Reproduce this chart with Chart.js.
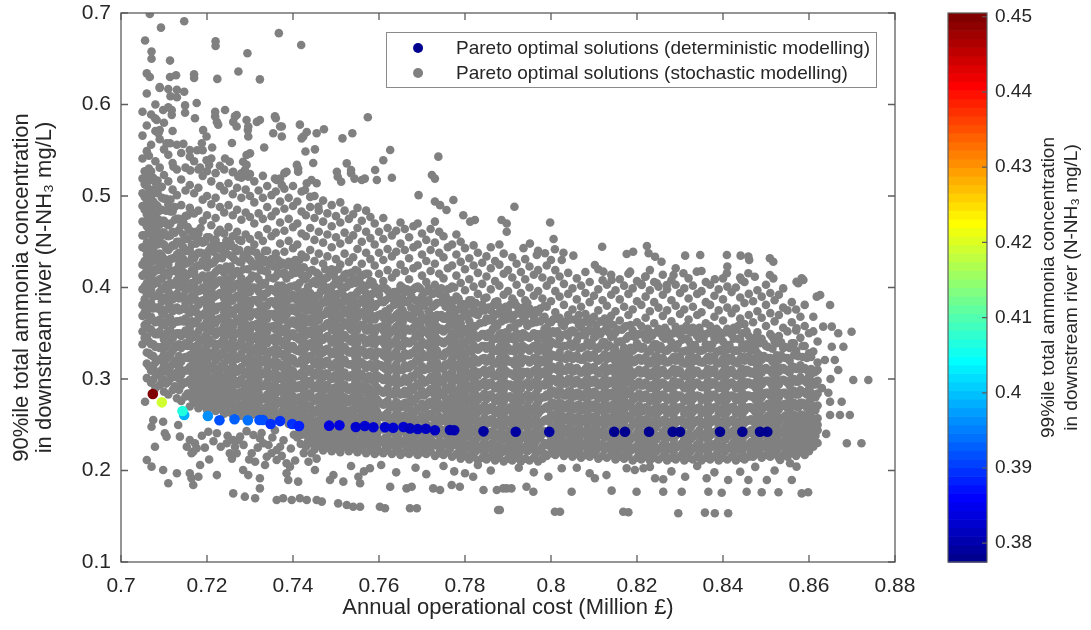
<!DOCTYPE html>
<html><head><meta charset="utf-8">
<script src="https://cdn.jsdelivr.net/npm/chart.js@4.4.0/dist/chart.umd.min.js"></script>
<style>html,body{margin:0;padding:0;background:#fff;overflow:hidden}#wrap{width:1091px;height:630px;position:relative}canvas{display:block}</style>
</head><body><div id="wrap"><canvas id="c" width="1091" height="630" style="width:1091px;height:630px"></canvas></div>
<script>
// ---------- tick labels / ranges ----------
const xTicks = [0.7, 0.72, 0.74, 0.76, 0.78, 0.8, 0.82, 0.84, 0.86, 0.88];
const yTicks = [0.1, 0.2, 0.3, 0.4, 0.5, 0.6, 0.7];
const cbTicks = [0.38, 0.39, 0.4, 0.41, 0.42, 0.43, 0.44, 0.45];
const cbRange = [0.3775, 0.4505];
const xTitle = 'Annual operational cost (Million £)';
const yTitle = ['90%ile total ammonia concentration', 'in downstream river (N-NH\u2083 mg/L)'];
const cbTitle = ['99%ile total ammonia concentration', 'in downstream river (N-NH\u2083 mg/L)'];
const seriesLabels = ['Pareto optimal solutions (deterministic modelling)', 'Pareto optimal solutions (stochastic modelling)'];

// ---------- deterministic Pareto front ----------
const detCost = [.7074,.7095,.7147,.7143,.7202,.7229,.7264,.7295,.7322,.733,.7348,.737,.7398,.7414,.7484,.7508,.7546,.7567,.7587,.7614,.7633,.7657,.7672,.769,.7709,.773,.7765,.7775,.7843,.7918,.7996,.8147,.8172,.8228,.8283,.83,.8393,.8445,.8486,.8503];
const det90 = [.2836,.2745,.2607,.265,.2596,.2549,.256,.2549,.2552,.2552,.2508,.254,.2508,.2486,.249,.2494,.2475,.2486,.2472,.2472,.2468,.2475,.246,.2453,.2457,.244,.2443,.244,.2428,.2424,.2424,.2424,.2424,.2424,.2424,.2424,.2424,.2424,.2424,.2424];
const det99 = [.45,.419,.399,.407,.396,.392,.393,.394,.392,.392,.3895,.39,.389,.388,.384,.384,.383,.383,.383,.383,.3825,.3825,.382,.382,.382,.381,.3805,.3805,.3795,.379,.379,.3785,.3785,.3785,.3785,.3785,.378,.378,.378,.378];

// ---------- stochastic Pareto solutions, by cost column: [cost, conc, conc, ...] ----------
const stochColsA = [
[.705,.338,.352,.369,.381,.398,.413,.425,.444,.457,.472,.489,.503,.519,.541,.566,.592],
[.706,.301,.317,.329,.346,.361,.374,.392,.405,.419,.436,.449,.467,.48,.496,.511,.523,.549,.577,.612,.634],
[.707,.296,.309,.326,.338,.354,.368,.383,.397,.414,.428,.441,.458,.472,.486,.5,.527,.556,.589],
[.708,.29,.306,.318,.335,.349,.362,.378,.391,.407,.42,.436,.45,.463,.479,.491,.515,.538,.571,.6],
[.709,.293,.304,.321,.334,.352,.365,.379,.395,.409,.425,.437,.454,.469,.484,.509,.531,.562,.618],
[.710,.286,.299,.315,.327,.343,.359,.371,.388,.4,.416,.431,.447,.46,.473,.497,.523,.551,.58],
[.711,.283,.297,.31,.324,.34,.353,.367,.384,.396,.413,.425,.441,.456,.468,.491,.516,.545,.597],
[.712,.288,.302,.316,.331,.344,.36,.374,.387,.403,.418,.432,.446,.461,.483,.507,.536,.571],
[.713,.279,.291,.307,.32,.336,.35,.363,.378,.393,.408,.42,.436,.45,.475,.501,.529,.556],
[.714,.276,.293,.305,.319,.334,.347,.364,.376,.39,.405,.419,.433,.448,.468,.49,.518,.547],
[.715,.281,.296,.309,.324,.339,.353,.366,.383,.397,.41,.426,.44,.453,.478,.506,.531],
[.716,.27,.284,.299,.313,.326,.343,.356,.372,.385,.399,.415,.428,.441,.462,.487,.512,.543],
[.717,.274,.288,.303,.317,.331,.346,.361,.374,.39,.403,.417,.432,.456,.481,.503,.538],
[.718,.268,.281,.294,.31,.323,.338,.352,.366,.381,.396,.408,.424,.438,.459,.484,.509,.529],
[.719,.271,.286,.3,.314,.327,.342,.357,.37,.386,.4,.413,.429,.449,.473,.496,.522,.55],
[.720,.266,.279,.293,.308,.321,.337,.35,.363,.379,.393,.406,.422,.434,.455,.479,.5,.527],
[.721,.269,.283,.296,.311,.325,.339,.354,.368,.382,.397,.41,.426,.445,.468,.491,.516,.541],
[.722,.265,.278,.291,.305,.32,.333,.348,.361,.375,.391,.404,.417,.43,.452,.476,.498,.525],
[.723,.267,.282,.295,.309,.324,.338,.351,.366,.379,.394,.408,.421,.442,.463,.488,.511,.533],
[.724,.262,.275,.289,.302,.317,.331,.345,.359,.373,.388,.401,.416,.437,.459,.482,.506,.529],
[.725,.264,.279,.292,.306,.321,.334,.349,.363,.377,.392,.405,.419,.445,.466,.49,.514],
[.726,.261,.273,.287,.301,.315,.329,.343,.357,.371,.386,.399,.413,.433,.456,.479,.502,.526],
[.727,.266,.28,.294,.308,.322,.336,.35,.365,.378,.391,.404,.418,.44,.461,.485,.509],
[.728,.26,.272,.286,.3,.313,.328,.342,.356,.369,.384,.397,.41,.428,.451,.474,.498,.52],
[.729,.263,.277,.29,.305,.318,.333,.346,.36,.374,.388,.402,.436,.458,.482,.507],
[.730,.259,.271,.284,.298,.312,.325,.34,.353,.368,.381,.395,.409,.43,.453,.477,.5,.524],
[.731,.262,.276,.289,.303,.317,.33,.344,.358,.372,.386,.4,.423,.447,.47,.493,.516],
[.732,.26,.273,.285,.299,.313,.327,.341,.355,.369,.383,.396,.409,.433,.457,.481,.506],
[.733,.264,.278,.292,.306,.32,.334,.347,.361,.375,.389,.403,.427,.451,.475,.498,.522],
[.734,.258,.27,.283,.297,.311,.325,.339,.352,.366,.38,.394,.417,.44,.464,.488,.511],
[.735,.261,.275,.288,.302,.316,.33,.343,.357,.371,.385,.398,.431,.456,.478,.501],
[.736,.257,.271,.284,.298,.312,.326,.34,.354,.367,.381,.395,.412,.437,.46,.483,.505],
[.737,.26,.274,.287,.3,.314,.328,.342,.356,.37,.384,.398,.424,.448,.471,.494,.519],
[.738,.258,.269,.282,.296,.31,.324,.337,.351,.365,.379,.393,.416,.439,.462,.486,.508],
[.739,.251,.263,.277,.291,.304,.318,.332,.346,.36,.374,.388,.4,.428,.451,.475,.498],
[.740,.254,.268,.281,.295,.309,.322,.336,.35,.364,.378,.392,.419,.443,.466,.489,.511]
];
const stochColsB = [
[.741,.236,.249,.262,.276,.29,.303,.317,.331,.345,.359,.373,.386,.4,.424,.447,.47,.494],
[.742,.239,.253,.266,.28,.294,.307,.321,.335,.349,.363,.377,.39,.414,.436,.459,.483,.505],
[.743,.226,.239,.252,.266,.279,.293,.307,.32,.334,.348,.362,.375,.389,.41,.433,.456,.479],
[.744,.23,.243,.257,.27,.284,.298,.311,.325,.339,.353,.366,.38,.394,.418,.441,.465,.488],
[.745,.223,.236,.249,.263,.276,.29,.304,.317,.331,.345,.358,.372,.386,.407,.429,.452,.476,.5],
[.746,.227,.241,.254,.268,.281,.295,.309,.322,.336,.35,.364,.377,.391,.414,.437,.461,.484],
[.747,.222,.234,.247,.261,.274,.288,.302,.315,.329,.343,.356,.37,.384,.404,.426,.449,.472,.495],
[.748,.225,.238,.252,.265,.279,.293,.306,.32,.333,.347,.361,.375,.389,.411,.434,.458,.481],
[.749,.221,.232,.245,.259,.272,.286,.3,.313,.327,.34,.354,.368,.382,.395,.42,.444,.467,.49],
[.750,.224,.237,.25,.264,.277,.291,.305,.318,.332,.346,.359,.373,.387,.409,.431,.455,.478],
[.751,.22,.233,.246,.26,.273,.287,.3,.314,.328,.341,.355,.369,.383,.402,.425,.448,.471,.493],
[.752,.226,.24,.253,.267,.28,.294,.307,.321,.335,.348,.362,.376,.39,.414,.437,.46,.484],
[.753,.221,.234,.248,.261,.275,.288,.302,.316,.329,.343,.357,.37,.384,.406,.428,.452,.475],
[.754,.224,.236,.249,.263,.277,.29,.304,.317,.331,.345,.358,.372,.386,.41,.433,.457,.48],
[.755,.22,.232,.245,.258,.272,.285,.299,.313,.326,.34,.354,.367,.381,.395,.418,.442,.465,.487],
[.756,.223,.237,.25,.264,.277,.291,.305,.318,.332,.345,.359,.373,.387,.403,.426,.45,.473],
[.757,.219,.231,.244,.258,.271,.285,.298,.312,.326,.339,.353,.366,.38,.394,.415,.438,.461,.484],
[.758,.222,.235,.248,.262,.276,.289,.303,.316,.33,.344,.357,.371,.385,.407,.431,.454,.477],
[.759,.218,.23,.243,.257,.27,.283,.297,.311,.324,.338,.351,.365,.379,.401,.424,.447,.47],
[.760,.221,.234,.248,.261,.275,.288,.302,.315,.329,.342,.356,.37,.392,.415,.438,.461],
[.761,.219,.232,.245,.258,.272,.285,.299,.313,.326,.34,.353,.367,.384,.407,.43,.453,.476],
[.762,.222,.236,.249,.263,.276,.29,.303,.317,.331,.344,.358,.372,.397,.419,.442,.465],
[.763,.218,.231,.244,.257,.271,.284,.298,.311,.325,.339,.352,.366,.388,.411,.434,.457],
[.764,.221,.235,.248,.262,.275,.289,.303,.316,.33,.343,.357,.37,.392,.416,.439,.462],
[.765,.217,.229,.242,.256,.269,.283,.296,.31,.324,.337,.351,.364,.38,.402,.425,.448,.471],
[.766,.22,.233,.247,.26,.274,.287,.301,.315,.328,.342,.355,.369,.395,.418,.441,.464],
[.767,.218,.231,.244,.258,.271,.285,.299,.312,.326,.339,.353,.367,.386,.409,.432,.455],
[.768,.221,.234,.247,.261,.275,.288,.302,.315,.329,.342,.356,.37,.398,.421,.444,.467],
[.769,.217,.228,.241,.255,.268,.282,.295,.309,.323,.336,.35,.363,.378,.401,.424,.447,.47],
[.770,.22,.233,.246,.26,.273,.287,.3,.314,.328,.341,.355,.368,.39,.413,.436,.459],
[.771,.218,.23,.243,.257,.27,.284,.297,.311,.325,.338,.352,.365,.384,.406,.429,.452],
[.772,.221,.235,.248,.262,.275,.289,.302,.316,.33,.343,.357,.37,.395,.418,.441,.464],
[.773,.216,.228,.242,.255,.269,.282,.296,.309,.323,.337,.35,.364,.381,.403,.426,.449,.472],
[.774,.219,.232,.246,.259,.273,.286,.3,.314,.327,.341,.354,.368,.393,.415,.438,.461],
[.775,.217,.23,.244,.257,.271,.284,.298,.311,.325,.339,.352,.366,.387,.41,.433,.456],
[.776,.22,.234,.247,.261,.274,.288,.301,.315,.329,.342,.356,.369,.398,.421,.444],
[.777,.215,.227,.241,.254,.268,.281,.295,.308,.322,.336,.349,.363,.379,.401,.424,.447],
[.778,.218,.231,.245,.258,.272,.285,.299,.313,.326,.34,.353,.367,.39,.413,.436,.458],
[.779,.213,.226,.239,.253,.266,.28,.293,.307,.321,.334,.348,.361,.382,.405,.428,.45],
[.780,.216,.229,.243,.256,.27,.283,.297,.311,.324,.338,.351,.374,.397,.42,.443]
];
const stochColsC = [
[.781,.212,.225,.238,.252,.265,.279,.292,.306,.32,.333,.347,.363,.386,.409,.432],
[.782,.215,.228,.242,.255,.269,.282,.296,.31,.323,.337,.35,.378,.401,.424,.446],
[.783,.211,.223,.237,.25,.264,.277,.291,.304,.318,.332,.345,.37,.393,.416,.438],
[.784,.214,.227,.241,.254,.268,.281,.295,.308,.322,.336,.349,.381,.404,.427],
[.785,.212,.224,.238,.251,.265,.278,.292,.305,.319,.333,.346,.366,.389,.412,.434],
[.786,.215,.229,.242,.256,.269,.283,.296,.31,.324,.337,.351,.375,.398,.421,.444],
[.787,.211,.222,.236,.249,.263,.276,.29,.303,.317,.331,.344,.361,.384,.407,.429],
[.788,.214,.227,.24,.254,.267,.281,.294,.308,.322,.335,.349,.379,.402,.425,.447],
[.789,.21,.221,.234,.248,.261,.275,.288,.302,.316,.329,.343,.369,.392,.415,.437],
[.790,.213,.226,.239,.253,.266,.28,.293,.307,.32,.334,.348,.374,.396,.419],
[.791,.211,.224,.237,.251,.264,.278,.291,.305,.319,.332,.346,.365,.388,.411,.433],
[.792,.214,.227,.241,.254,.268,.281,.295,.309,.322,.336,.35,.38,.403,.426],
[.793,.21,.222,.235,.249,.262,.276,.289,.303,.317,.33,.344,.371,.394,.417],
[.794,.213,.226,.239,.253,.266,.28,.294,.307,.321,.334,.348,.363,.386,.409,.431],
[.795,.211,.223,.236,.25,.263,.277,.291,.304,.318,.331,.345,.377,.4,.423],
[.796,.214,.228,.241,.255,.268,.282,.296,.309,.323,.336,.35,.368,.391,.414],
[.797,.21,.221,.235,.248,.262,.275,.289,.302,.316,.33,.343,.373,.396,.419,.44],
[.798,.213,.226,.24,.253,.267,.28,.294,.308,.321,.335,.349,.365,.388,.411],
[.799,.216,.229,.242,.256,.27,.283,.297,.31,.324,.338,.356,.379,.402,.424],
[.800,.219,.233,.246,.26,.273,.287,.3,.314,.327,.341,.362,.385,.408,.43],
[.801,.217,.23,.243,.257,.27,.284,.298,.311,.325,.35,.373,.396,.419],
[.802,.22,.234,.247,.261,.274,.288,.302,.315,.329,.344,.367,.39,.412],
[.803,.216,.228,.241,.255,.268,.282,.295,.309,.323,.336,.358,.381,.404],
[.804,.219,.232,.246,.259,.273,.286,.3,.313,.327,.347,.37,.393,.416],
[.805,.215,.227,.24,.254,.267,.281,.295,.308,.322,.335,.353,.376,.399],
[.806,.218,.231,.244,.258,.271,.285,.299,.312,.326,.342,.364,.387,.41],
[.807,.214,.226,.239,.253,.266,.28,.293,.307,.321,.334,.356,.379,.402],
[.808,.217,.23,.243,.257,.271,.284,.298,.311,.325,.348,.371,.394,.417],
[.809,.215,.228,.241,.255,.268,.282,.296,.309,.323,.336,.361,.384,.406],
[.810,.218,.232,.245,.259,.272,.286,.299,.313,.327,.345,.368,.391],
[.811,.213,.225,.238,.252,.265,.279,.293,.306,.32,.333,.352,.375,.398,.42],
[.812,.216,.229,.243,.256,.27,.283,.297,.311,.324,.34,.363,.386,.408],
[.813,.214,.227,.24,.254,.267,.281,.294,.308,.322,.335,.357,.38,.403],
[.814,.217,.231,.244,.258,.271,.285,.298,.312,.326,.346,.369,.392,.414],
[.815,.212,.224,.237,.251,.264,.278,.292,.305,.319,.332,.351,.374,.397],
[.816,.215,.228,.242,.255,.269,.282,.296,.31,.323,.341,.364,.387,.409],
[.817,.213,.226,.239,.253,.266,.28,.294,.307,.321,.334,.356,.379,.402],
[.818,.216,.23,.243,.257,.27,.284,.297,.311,.325,.347,.37,.393,.415],
[.819,.211,.223,.236,.25,.263,.277,.291,.304,.318,.331,.353,.376,.399],
[.820,.214,.227,.241,.254,.268,.281,.295,.308,.322,.339,.362,.385,.407]
];
const stochColsD = [
[.821,.212,.225,.238,.252,.265,.279,.293,.306,.32,.333,.358,.381,.404],
[.822,.215,.229,.242,.256,.269,.283,.296,.31,.324,.344,.367,.39,.412],
[.823,.211,.222,.235,.249,.262,.276,.29,.303,.317,.33,.351,.374,.397,.419],
[.824,.214,.227,.24,.254,.267,.281,.294,.308,.322,.338,.361,.384,.406],
[.825,.212,.224,.237,.251,.264,.278,.292,.305,.319,.332,.355,.378,.401],
[.826,.215,.228,.242,.255,.269,.283,.296,.31,.323,.346,.369,.392,.414],
[.827,.211,.223,.236,.25,.263,.277,.29,.304,.318,.331,.352,.375,.398],
[.828,.214,.226,.24,.253,.267,.28,.294,.308,.321,.34,.363,.386,.408],
[.829,.212,.225,.238,.252,.265,.279,.293,.306,.32,.333,.357,.38,.403,.421],
[.830,.215,.228,.242,.255,.269,.282,.296,.309,.323,.348,.371,.394],
[.831,.211,.222,.235,.249,.262,.276,.29,.303,.317,.33,.353,.376,.399],
[.832,.214,.227,.24,.254,.267,.281,.295,.308,.322,.342,.365,.388,.41],
[.833,.212,.224,.237,.251,.264,.278,.292,.305,.319,.332,.356,.379,.402],
[.834,.215,.228,.241,.255,.268,.282,.296,.309,.323,.347,.37,.393],
[.835,.211,.223,.236,.25,.263,.277,.291,.304,.318,.331,.35,.373,.396,.418],
[.836,.214,.226,.24,.253,.267,.28,.294,.307,.321,.338,.361,.384,.406],
[.837,.212,.225,.238,.252,.265,.279,.293,.306,.32,.333,.358,.381,.403],
[.838,.215,.229,.242,.256,.269,.283,.296,.31,.324,.345,.368,.391],
[.839,.211,.222,.235,.249,.262,.276,.29,.303,.317,.33,.352,.375,.398],
[.840,.214,.227,.241,.254,.268,.281,.295,.308,.322,.341,.364,.387,.41],
[.841,.212,.224,.237,.251,.264,.278,.292,.305,.319,.332,.355,.378,.401,.423],
[.842,.215,.228,.242,.255,.269,.282,.296,.31,.323,.349,.372,.395],
[.843,.211,.223,.236,.25,.263,.277,.29,.304,.318,.331,.354,.377,.4],
[.844,.214,.227,.24,.254,.267,.281,.295,.308,.322,.343,.366,.389,.411],
[.845,.212,.225,.238,.252,.265,.279,.293,.306,.32,.333,.36,.383,.406],
[.846,.215,.228,.242,.255,.269,.282,.296,.309,.323,.347,.37,.393],
[.847,.215,.227,.24,.254,.267,.281,.295,.308,.322,.339,.362,.385],
[.848,.218,.232,.245,.259,.272,.286,.299,.313,.328,.351,.374,.397],
[.849,.214,.226,.239,.253,.266,.28,.294,.307,.321,.344,.367,.39],
[.850,.217,.23,.244,.257,.271,.285,.298,.312,.336,.358,.381,.403],
[.851,.215,.228,.241,.255,.268,.282,.296,.309,.323,.349,.372,.394],
[.852,.218,.232,.245,.259,.273,.286,.3,.313,.341,.363,.386],
[.853,.214,.226,.24,.253,.267,.28,.294,.308,.321,.347,.37,.392],
[.854,.217,.231,.244,.258,.272,.285,.299,.312,.334,.356,.378,.399],
[.855,.215,.228,.241,.255,.268,.282,.296,.309,.323,.352,.375],
[.856,.219,.233,.246,.26,.273,.287,.3,.314,.339,.362,.384],
[.857,.216,.229,.243,.256,.27,.283,.297,.311,.331,.353,.376],
[.858,.22,.234,.247,.261,.274,.288,.302,.315,.345,.368],
[.859,.217,.23,.244,.257,.271,.285,.298,.312,.336,.358,.381],
[.860,.221,.235,.248,.262,.275,.289,.303,.328,.35],
[.861,.226,.239,.253,.266,.28,.294,.307,.33,.352],
[.862,.23,.244,.257,.271,.284,.298,.318,.341]
];
// second, interleaved set of cost columns in the dense band
const stochFillA = [
[.7055,.345,.359,.373,.387,.401,.415,.429,.443,.457,.471,.485,.499,.513,.527],
[.7065,.314,.328,.341,.355,.368,.382,.395,.409,.422,.436,.449,.463,.476,.49,.503,.517,.53,.544],
[.7075,.299,.312,.325,.338,.351,.364,.377,.39,.403,.416,.429,.442,.455,.468,.481,.494,.507,.52],
[.7085,.307,.321,.335,.349,.363,.377,.391,.405,.419,.433,.447,.461,.475,.489,.503,.517],
[.7095,.298,.31,.323,.335,.348,.36,.373,.385,.398,.41,.423,.435,.448,.46,.473,.485,.498,.51],
[.7105,.295,.308,.322,.335,.349,.362,.376,.389,.403,.416,.43,.443,.457,.47,.484,.497],
[.7115,.301,.314,.327,.34,.353,.366,.379,.392,.405,.418,.431,.444,.457,.47,.483,.496],
[.7125,.292,.306,.32,.334,.348,.362,.376,.39,.404,.418,.432,.446,.46,.474,.488],
[.7135,.288,.3,.313,.325,.338,.35,.363,.375,.388,.4,.413,.425,.438,.45,.463,.475],
[.7145,.296,.309,.323,.336,.35,.363,.377,.39,.404,.417,.431,.444,.458,.471],
[.7155,.284,.297,.31,.323,.336,.349,.362,.375,.388,.401,.414,.427,.44,.453,.466,.479],
[.7165,.279,.293,.307,.321,.335,.349,.363,.377,.391,.405,.419,.433,.447,.461],
[.7175,.286,.298,.311,.323,.336,.348,.361,.373,.386,.398,.411,.423,.436,.448,.461],
[.7185,.276,.289,.303,.316,.33,.343,.357,.37,.384,.397,.411,.424,.438,.451,.465],
[.7195,.281,.294,.307,.32,.333,.346,.359,.372,.385,.398,.411,.424,.437,.45],
[.7205,.273,.287,.301,.315,.329,.343,.357,.371,.385,.399,.413,.427,.441,.455],
[.7215,.277,.289,.302,.314,.327,.339,.352,.364,.377,.389,.402,.414,.427,.439,.452],
[.7225,.271,.284,.298,.311,.325,.338,.352,.365,.379,.392,.406,.419,.433,.446,.46],
[.7235,.276,.289,.302,.315,.328,.341,.354,.367,.38,.393,.406,.419,.432,.445],
[.7245,.269,.283,.297,.311,.325,.339,.353,.367,.381,.395,.409,.423,.437,.451],
[.7255,.273,.285,.298,.31,.323,.335,.348,.36,.373,.385,.398,.41,.423,.435,.448],
[.7265,.268,.281,.295,.308,.322,.335,.349,.362,.376,.389,.403,.416,.43,.443],
[.7275,.272,.285,.298,.311,.324,.337,.35,.363,.376,.389,.402,.415,.428,.441,.452],
[.7285,.266,.28,.294,.308,.322,.336,.35,.364,.378,.392,.406,.42,.434],
[.7295,.27,.282,.295,.307,.32,.332,.345,.357,.37,.382,.395,.407,.42,.432,.441],
[.7305,.265,.278,.292,.305,.319,.332,.346,.359,.373,.386,.4,.413,.427,.44],
[.7315,.269,.282,.295,.308,.321,.334,.347,.36,.373,.386,.399,.412,.425,.438],
[.7325,.265,.279,.293,.307,.321,.335,.349,.363,.377,.391,.405,.419,.433],
[.7335,.268,.28,.293,.305,.318,.33,.343,.355,.368,.38,.393,.405,.418,.43,.44],
[.7345,.263,.276,.29,.303,.317,.33,.344,.357,.371,.384,.398,.411,.425],
[.7355,.267,.28,.293,.306,.319,.332,.345,.358,.371,.384,.397,.41,.423],
[.7365,.262,.276,.29,.304,.318,.332,.346,.36,.374,.388,.402,.416,.43],
[.7375,.265,.277,.29,.302,.315,.327,.34,.352,.365,.377,.39,.402,.415,.427],
[.7385,.262,.275,.289,.302,.316,.329,.343,.356,.37,.383,.397,.41,.424],
[.7395,.258,.271,.284,.297,.31,.323,.336,.349,.362,.375,.388,.401,.414,.427],
[.7405,.262,.276,.29,.304,.318,.332,.346,.36,.374,.388,.402,.416,.43]
];
const stochFillB = [
[.7415,.243,.255,.268,.28,.293,.305,.318,.33,.343,.355,.368,.38,.393,.405,.418,.43],
[.7425,.247,.26,.274,.287,.301,.314,.328,.341,.355,.368,.382,.395,.409,.422],
[.7435,.232,.245,.258,.271,.284,.297,.31,.323,.336,.349,.362,.375,.388,.401,.414],
[.7445,.237,.251,.265,.279,.293,.307,.321,.335,.349,.363,.377,.391,.405,.419],
[.7455,.229,.241,.254,.266,.279,.291,.304,.316,.329,.341,.354,.366,.379,.391,.404,.416],
[.7465,.234,.247,.261,.274,.288,.301,.315,.328,.342,.355,.369,.382,.396,.409],
[.7475,.228,.241,.254,.267,.28,.293,.306,.319,.332,.345,.358,.371,.384,.397,.41,.42],
[.7485,.232,.246,.26,.274,.288,.302,.316,.33,.344,.358,.372,.386,.4,.414],
[.7495,.228,.24,.253,.265,.278,.29,.303,.315,.328,.34,.353,.365,.378,.39,.403,.415],
[.7505,.231,.244,.258,.271,.285,.298,.312,.325,.339,.352,.366,.379,.393,.406,.42],
[.7515,.228,.241,.254,.267,.28,.293,.306,.319,.332,.345,.358,.371,.384,.397,.41],
[.7525,.233,.247,.261,.275,.289,.303,.317,.331,.345,.359,.373,.387,.401,.415],
[.7535,.229,.241,.254,.266,.279,.291,.304,.316,.329,.341,.354,.366,.379,.391,.404,.416],
[.7545,.23,.243,.257,.27,.284,.297,.311,.324,.338,.351,.365,.378,.392,.405,.419],
[.7555,.228,.241,.254,.267,.28,.293,.306,.319,.332,.345,.358,.371,.384,.397,.41],
[.7565,.232,.246,.26,.274,.288,.302,.316,.33,.344,.358,.372,.386,.4,.414],
[.7575,.228,.24,.253,.265,.278,.29,.303,.315,.328,.34,.353,.365,.378,.39,.403,.415],
[.7585,.231,.244,.258,.271,.285,.298,.312,.325,.339,.352,.366,.379,.393,.406],
[.7595,.226,.239,.252,.265,.278,.291,.304,.317,.33,.343,.356,.369,.382,.395],
[.7605,.231,.245,.259,.273,.287,.301,.315,.329,.343,.357,.371,.385,.399],
[.7615,.224,.236,.249,.261,.274,.286,.299,.311,.324,.336,.349,.361,.374,.386,.399],
[.7625,.229,.242,.256,.269,.283,.296,.31,.323,.337,.35,.364,.377,.391],
[.7635,.227,.241,.255,.269,.283,.297,.311,.325,.339,.353,.367,.381,.395],
[.7645,.224,.236,.248,.261,.273,.285,.298,.31,.322,.335,.347,.359,.372,.384,.396],
[.7655,.232,.245,.258,.271,.284,.297,.31,.323,.336,.349,.362,.375,.388,.4],
[.7665,.225,.239,.254,.268,.283,.297,.312,.326,.341,.355,.37,.384,.398],
[.7675,.228,.241,.253,.266,.278,.291,.303,.316,.328,.341,.353,.366,.378,.391],
[.7685,.224,.238,.251,.265,.278,.292,.305,.319,.332,.346,.359,.373,.386,.4],
[.7695,.23,.243,.256,.269,.282,.295,.308,.321,.334,.347,.36,.373,.386,.399],
[.7705,.226,.24,.254,.268,.282,.296,.31,.324,.338,.352,.366,.38,.394],
[.7715,.224,.236,.249,.261,.274,.286,.299,.311,.324,.336,.349,.361,.374,.386,.399],
[.7725,.231,.244,.258,.271,.285,.298,.312,.325,.339,.352,.366,.379,.393],
[.7735,.227,.24,.253,.266,.279,.292,.305,.318,.331,.344,.357,.37,.383,.396],
[.7745,.225,.239,.254,.268,.283,.297,.312,.326,.341,.355,.37,.384,.399],
[.7755,.229,.241,.254,.266,.279,.291,.304,.316,.329,.341,.354,.366,.379,.391],
[.7765,.224,.237,.251,.264,.278,.291,.305,.318,.332,.345,.359,.372,.386,.399],
[.7775,.232,.246,.26,.274,.288,.302,.316,.33,.344,.358,.372,.386,.4],
[.7785,.226,.238,.251,.263,.276,.288,.301,.313,.326,.338,.351,.363,.376,.388],
[.7795,.22,.233,.247,.26,.274,.287,.301,.314,.328,.341,.355,.368,.382],
[.7805,.225,.238,.251,.264,.277,.29,.303,.316,.329,.342,.355,.368,.381]
];
const stochFillC = [
[.7815,.218,.232,.246,.26,.274,.288,.302,.316,.33,.344,.358,.372,.386],
[.7825,.221,.233,.246,.258,.271,.283,.296,.308,.321,.333,.346,.358,.371,.383],
[.7835,.226,.239,.253,.266,.28,.293,.307,.32,.334,.347,.361,.374],
[.7845,.219,.232,.245,.258,.271,.284,.297,.31,.323,.336,.349,.362,.375,.388],
[.7855,.224,.238,.252,.266,.28,.294,.308,.322,.336,.35,.364,.378],
[.7865,.218,.23,.243,.255,.268,.28,.293,.305,.318,.33,.343,.355,.368,.38],
[.7875,.223,.236,.25,.263,.277,.29,.304,.317,.331,.344,.358,.371,.385],
[.7885,.22,.233,.246,.259,.272,.285,.298,.311,.324,.337,.35,.363,.376],
[.7895,.225,.239,.253,.267,.281,.295,.309,.323,.337,.351,.365,.379],
[.7905,.219,.231,.244,.256,.269,.281,.294,.306,.319,.331,.344,.356,.369,.381],
[.7915,.222,.235,.249,.262,.276,.289,.303,.316,.33,.343,.357,.37,.384],
[.7925,.218,.231,.244,.257,.27,.283,.296,.309,.322,.335,.348,.361,.374],
[.7935,.224,.238,.252,.266,.28,.294,.308,.322,.336,.35,.364,.378],
[.7945,.221,.233,.246,.258,.271,.283,.296,.308,.321,.333,.346,.358,.371,.383],
[.7955,.226,.239,.253,.266,.28,.293,.307,.32,.334,.347,.361,.374],
[.7965,.219,.232,.245,.258,.271,.284,.297,.31,.323,.336,.349,.362,.375],
[.7975,.223,.237,.251,.265,.279,.293,.307,.321,.335,.349,.363,.377],
[.7985,.218,.23,.243,.255,.268,.28,.293,.305,.318,.33,.343,.355,.368,.38],
[.7995,.227,.24,.254,.267,.281,.294,.308,.321,.335,.348,.362],
[.8005,.222,.235,.248,.261,.274,.287,.3,.313,.326,.339,.352,.365],
[.8015,.226,.24,.254,.268,.282,.296,.31,.324,.338,.352,.366],
[.8025,.223,.235,.248,.26,.273,.285,.298,.31,.323,.335,.348,.36],
[.8035,.228,.241,.255,.268,.282,.295,.309,.322,.336,.349,.363],
[.8045,.222,.235,.248,.261,.274,.287,.3,.313,.326,.339,.352,.365],
[.8055,.225,.239,.253,.267,.281,.295,.309,.323,.337,.351,.365],
[.8065,.222,.234,.247,.259,.272,.284,.297,.309,.322,.334,.347,.359,.37],
[.8075,.227,.24,.254,.267,.281,.294,.308,.321,.335,.348,.362],
[.8085,.223,.236,.249,.262,.275,.288,.301,.314,.327,.34,.353,.366],
[.8095,.226,.24,.254,.268,.282,.296,.31,.324,.338,.352,.366],
[.8105,.222,.234,.247,.259,.272,.284,.297,.309,.322,.334,.347,.359],
[.8115,.228,.241,.255,.268,.282,.295,.309,.322,.336,.349,.363],
[.8125,.223,.236,.249,.262,.275,.288,.301,.314,.327,.34,.353,.366],
[.8135,.225,.239,.253,.267,.281,.295,.309,.323,.337,.351,.365],
[.8145,.222,.234,.247,.259,.272,.284,.297,.309,.322,.334,.347,.359],
[.8155,.219,.232,.246,.259,.273,.286,.3,.313,.327,.34,.354],
[.8165,.224,.237,.25,.263,.276,.289,.302,.315,.328,.341,.354],
[.8175,.218,.232,.246,.26,.274,.288,.302,.316,.33,.344,.358],
[.8185,.222,.234,.247,.259,.272,.284,.297,.309,.322,.334,.347,.359],
[.8195,.225,.238,.252,.265,.279,.292,.306,.319,.333,.346],
[.8205,.219,.232,.245,.258,.271,.284,.297,.31,.323,.336,.349]
];
const stochFillD = [
[.8215,.223,.237,.251,.265,.279,.293,.307,.321,.335,.349],
[.8225,.218,.23,.243,.255,.268,.28,.293,.305,.318,.33,.343,.355],
[.8235,.226,.239,.253,.266,.28,.293,.307,.32,.334,.347],
[.8245,.221,.234,.247,.26,.273,.286,.299,.312,.325,.338,.351],
[.8255,.224,.238,.252,.266,.28,.294,.308,.322,.336,.35],
[.8265,.219,.231,.244,.256,.269,.281,.294,.306,.319,.331,.344,.356],
[.8275,.225,.238,.252,.265,.279,.292,.306,.319,.333,.346],
[.8285,.22,.233,.246,.259,.272,.285,.298,.311,.324,.337,.35],
[.8295,.226,.24,.254,.268,.282,.296,.31,.324,.338,.352],
[.8305,.218,.23,.243,.255,.268,.28,.293,.305,.318,.33,.343,.355],
[.8315,.223,.236,.25,.263,.277,.29,.304,.317,.331,.344,.358],
[.8325,.221,.234,.247,.26,.273,.286,.299,.312,.325,.338,.351],
[.8335,.225,.239,.253,.267,.281,.295,.309,.323,.337,.351],
[.8345,.219,.231,.244,.256,.269,.281,.294,.306,.319,.331,.344,.356],
[.8355,.224,.237,.251,.264,.278,.291,.305,.318,.332,.345],
[.8365,.22,.233,.246,.259,.272,.285,.298,.311,.324,.337,.35],
[.8375,.226,.24,.254,.268,.282,.296,.31,.324,.338,.352],
[.8385,.218,.23,.243,.255,.268,.28,.293,.305,.318,.33,.343,.355],
[.8395,.224,.237,.251,.264,.278,.291,.305,.318,.332,.345],
[.8405,.221,.234,.247,.26,.273,.286,.299,.312,.325,.338,.351],
[.8415,.225,.239,.253,.267,.281,.295,.309,.323,.337,.351],
[.8425,.219,.231,.244,.256,.269,.281,.294,.306,.319,.331,.344,.356],
[.8435,.223,.236,.25,.263,.277,.29,.304,.317,.331,.344,.358],
[.8445,.22,.233,.246,.259,.272,.285,.298,.311,.324,.337,.35],
[.8455,.226,.24,.254,.268,.282,.296,.31,.324,.338,.352],
[.8465,.219,.231,.244,.256,.269,.281,.294,.306,.319,.331,.344],
[.8475,.224,.237,.251,.264,.278,.291,.305,.318,.332,.345],
[.8485,.222,.235,.248,.261,.274,.287,.3,.313,.326,.339],
[.8495,.227,.241,.255,.269,.283,.297,.311,.325,.339],
[.8505,.223,.235,.248,.26,.273,.285,.298,.31,.323,.335],
[.8515,.225,.238,.252,.265,.279,.292,.306,.319,.333,.346],
[.8525,.222,.235,.248,.261,.274,.287,.3,.313,.326,.339],
[.8535,.228,.242,.256,.27,.284,.298,.312,.326,.34],
[.8545,.223,.235,.248,.26,.273,.285,.298,.31,.323,.335],
[.8555,.226,.239,.253,.266,.28,.293,.307,.32,.334],
[.8565,.222,.235,.248,.261,.274,.287,.3,.313,.326,.339],
[.8575,.227,.241,.255,.269,.283,.297,.311,.325],
[.8585,.224,.236,.249,.261,.274,.286,.299,.311,.324,.336],
[.8595,.229,.242,.256,.269,.283,.296,.31,.323],
[.8605,.233,.246,.259,.272,.285,.298,.311,.324],
[.8615,.238,.252,.266,.28,.294,.308]
];
// scattered stochastic solutions [cost, conc]
const stochUpper = [
[.7067,.699],[.7093,.684],[.7147,.691],[.7056,.67],[.7071,.658],[.7071,.65],[.7114,.648],[.722,.669],[.722,.664],[.7294,.656],[.7367,.678],[.7419,.665],
[.7067,.63],[.7114,.63],[.7128,.632],[.709,.619],[.711,.617],[.713,.616],[.7115,.609],[.713,.608],[.717,.633],[.717,.629],[.7224,.628],[.7273,.636],[.7323,.6275],[.7147,.614],[.7176,.6016],[.7149,.599],[.7149,.591],[.7098,.594],[.7118,.594],[.7079,.585],[.7118,.5887],[.7219,.592],[.7219,.587],[.7226,.578],[.7242,.594],[.7269,.5885],[.7261,.581],[.7269,.576],[.7292,.583],[.7323,.583],[.7296,.576],[.7296,.565],[.736,.585],[.7374,.576],[.7374,.565],[.7416,.578],[.7424,.565],[.7432,.57],[.7455,.5685],[.7472,.573],[.7515,.563],[.7538,.5685],[.7574,.586],[.7083,.583],[.709,.572],[.7087,.5685],[.7114,.5576],[.7145,.557],[.716,.5503],[.7188,.5576],[.7199,.565],
[.7172,.585],[.7106,.5575],[.7177,.55],[.7212,.553],[.7258,.558],[.7191,.572],[.7223,.581],[.7265,.587],[.7316,.581],[.7295,.572],[.7358,.587],[.7354,.5685],[.737,.576],[.742,.563],[.7333,.553],[.7429,.5486],[.7451,.551],[.7199,.539],[.7205,.534],[.7184,.531],[.7161,.528],[.7122,.532],[.7242,.541],[.7253,.5375],[.7284,.5375],[.7292,.534],[.7292,.5448],[.7288,.5284],[.7296,.521],[.73,.5466],[.7261,.5265],[.7273,.521],[.728,.5248],[.7358,.519],[.7362,.5175],[.7374,.512],[.7385,.5265],[.7412,.53],[.7412,.5265],[.7409,.534],[.7447,.536],[.7432,.514],[.7443,.5175],[.7455,.514],[.738,.525],[.7428,.5066],[.744,.499],[.7459,.4883],[.7502,.5265],[.7504,.521],[.7512,.5156],[.7535,.5248],[.7543,.519],[.7535,.5284],[.7525,.5357],[.756,.5175],[.7567,.519],[.7591,.5284],[.7595,.5175],[.761,.539],[.7626,.5503],[.763,.52],[.7723,.523],[.773,.519],[.7738,.543],[.7692,.501],[.773,.494],[.7742,.49],[.7773,.4956],[.7757,.4847],[.7796,.479],[.7823,.4738],[.7812,.472],[.7885,.4738],[.7897,.47],
[.7915,.4883],[.7897,.461],[.7998,.471],[.8006,.453],[.7936,.443],[.7951,.448],[.7967,.4355],[.7986,.4374],[.8009,.4418],[.8029,.438],[.8052,.4348],[.8025,.43],[.8119,.4446],[.8102,.4246],[.8122,.4173],[.8141,.4082],[.8176,.4366],[.8191,.4391],[.8184,.4173],[.8223,.4454],[.8227,.4374],[.8242,.4336],[.8257,.4282],[.8219,.4118],[.8246,.4046],[.8211,.4027],[.8269,.4027],[.8285,.4137],[.8308,.4155],[.8312,.4348],[.8347,.4355],[.8339,.4173],[.8381,.409],[.8409,.4355],[.8409,.4155],[.8441,.4348],[.8459,.4337],[.8461,.43],[.8443,.4082],[.8459,.4155],[.8474,.4118],[.8509,.4319],[.8517,.4282],[.8509,.4137],[.8517,.41],[.8571,.4063],[.8583,.41]
];
const stochRight = [
[.8699,.3517],[.8668,.35],[.868,.3353],[.8653,.3353],[.8637,.3208],[.866,.3208],[.8668,.3098],[.8653,.3572],[.8633,.3572],[.8618,.39],[.8626,.3918],[.8649,.3809],[.861,.368],[.8571,.3554],[.8587,.4082],[.8575,.4046],[.8703,.2989],[.8738,.2989],[.8649,.2752],[.8676,.2752],[.8649,.2607],[.8672,.2607],[.8695,.2607],[.8688,.2297],[.8722,.2297],[.862,.25],[.864,.24],[.863,.29],[.865,.3],[.862,.31],[.8645,.285]
];
const stochLower = [
[.7056,.2752],[.706,.2115],[.7071,.2042],[.7079,.226],[.7075,.2552],[.7071,.2479],[.7098,.2533],[.7102,.2407],[.7106,.237],[.711,.186],[.7098,.2005],[.713,.197],[.7133,.2497],[.7137,.237],[.7153,.226],[.716,.2333],[.7172,.2297],[.7176,.2243],[.7164,.2188],[.7168,.2206],[.716,.197],[.7164,.1915],[.7184,.206],[.718,.1932],[.7168,.1842],[.7203,.2424],[.7223,.2407],[.7223,.195],[.7246,.2297],[.7261,.2333],[.7265,.226],[.7273,.2333],[.7253,.2188],[.7269,.2188],[.7284,.2005],[.7296,.195],[.7323,.1915],[.7261,.175],[.7288,.1714],[.7312,.1696],[.7323,.1805],[.7277,.237],[.7308,.2388],[.7323,.2352],[.7331,.2297],[.7343,.2279],[.7304,.2188],[.7312,.2096],[.7339,.2151],[.735,.2188],[.7362,.2224],[.737,.226],[.7362,.2115],[.7385,.2079],[.7393,.2042],[.7385,.197],[.7389,.1896],[.7412,.1878],[.7362,.1678],[.7377,.1696],[.7397,.1678],[.7416,.1696],[.7432,.1678],[.7455,.1678],[.7467,.166],[.744,.2297],[.7443,.2188],[.7436,.2096],[.7451,.2005],[.7486,.1896],[.7494,.195],[.7505,.1641],[.7525,.1623],[.754,.1604],[.7556,.1604],[.7517,.1878],[.7552,.1932],[.7556,.186],[.7579,.2024],[.7602,.1604],[.7614,.1587],[.7626,.1823],[.7664,.1805],[.7676,.1823],[.7672,.1587],[.7688,.1587],[.7726,.1805],[.7742,.1787],[.7769,.1842],[.7788,.1823],[.78,.197],[.7819,.1932],[.7843,.1787],[.7874,.1787],[.7897,.1805],[.7877,.1568],[.7889,.1805],[.7908,.1805],[.7881,.1568],[.7943,.1823],[.7959,.1768],[.8009,.155],[.8021,.155],[.7994,.1932],[.8025,.2024],[.8048,.1768],[.8102,.1915],[.8129,.195],[.8141,.178],[.8168,.155],[.818,.1543],[.8199,.1768],[.8176,.2024],[.8195,.2005],[.8215,.2024],[.8242,.1915],[.8261,.1904],[.8261,.1768],[.8304,.1768],[.8312,.1932],[.8296,.1532],[.8358,.154],[.8381,.1532],[.8412,.1532],[.8366,.1768],[.8397,.1757],[.8362,.1915],[.8412,.1896],[.8459,.1896],[.8502,.1896],[.844,.1987],[.8455,.1768],[.849,.1762],[.8529,.1762],[.856,.1896],[.8583,.175],[.8598,.1762],[.8533,.2115],[.8556,.2079],[.8571,.2042],
[.7535,.205],[.7565,.199],[.7605,.206],[.764,.198],[.7685,.203],[.771,.196],[.775,.205],[.7775,.199],[.783,.206],[.786,.2],[.7925,.203],[.796,.198],[.806,.203],[.809,.197],[.823,.204],[.828,.199],[.834,.205],[.838,.198],[.8475,.204],[.852,.2],
[.7215,.232],[.7232,.226],[.7248,.238],[.7258,.213],[.7285,.228],[.7292,.243],[.7298,.212],[.7318,.225],[.7327,.241],[.7335,.206],[.7352,.236],[.7358,.244],[.7374,.216],[.7378,.233],[.7395,.224],[.7402,.239],[.7405,.211],[.7418,.229],[.7425,.219],[.7432,.245],[.7448,.24],[.7455,.213],[.7205,.212],[.7195,.225],[.7188,.238]
];

// ---------- styling helpers ----------
const FONT = '"Liberation Sans", Arial, Helvetica, sans-serif';
const TXT = '#262626';
const AXC = '#5c5c5c';
function jet64(k) {
  const c = v => Math.max(0, Math.min(1, v));
  const i = k + 1; // 1..64 (MATLAB jet(64))
  const r = i < 25 ? 0 : (i <= 40 ? (i - 24) / 16 : (i <= 55 ? 1 : (16 - (i - 56)) / 16));
  const g = i < 9 ? 0 : (i <= 24 ? (i - 8) / 16 : (i <= 39 ? 1 : (i <= 55 ? (16 - (i - 40)) / 16 : 0)));
  const b = i <= 8 ? (i + 8) / 16 : (i <= 23 ? 1 : (i <= 39 ? (40 - i) / 16 : 0));
  return `rgb(${Math.round(c(r) * 255)},${Math.round(c(g) * 255)},${Math.round(c(b) * 255)})`;
}
function jetColor(v) {
  let k = Math.floor((v - cbRange[0]) / (cbRange[1] - cbRange[0]) * 64);
  k = Math.max(0, Math.min(63, k));
  return jet64(k);
}
const colsToPts = cols => cols.flatMap(c => c.slice(1).map(y => ({x: c[0], y})));
const pairsToPts = p => p.map(q => ({x: q[0], y: q[1]}));
const stochPts = [].concat(
  colsToPts(stochColsA), colsToPts(stochColsB), colsToPts(stochColsC), colsToPts(stochColsD),
  colsToPts(stochFillA), colsToPts(stochFillB), colsToPts(stochFillC), colsToPts(stochFillD),
  pairsToPts(stochUpper), pairsToPts(stochRight), pairsToPts(stochLower));
const detPts = detCost.map((x, i) => ({x, y: det90[i]}));
const detColors = det99.map(jetColor);
const fmt = v => String(+(+v).toFixed(2));
const noVPad = s => { s.paddingTop = 0; s.paddingBottom = 0; };

// ---------- plugins ----------
const framePlugin = {
  id: 'frame',
  afterDatasetsDraw(chart) {
    const {ctx, chartArea: a, scales} = chart;
    ctx.save();
    ctx.strokeStyle = AXC; ctx.lineWidth = 1.3;
    ctx.strokeRect(a.left, a.top, a.right - a.left, a.bottom - a.top);
    ctx.beginPath();
    xTicks.forEach(v => { const p = scales.x.getPixelForValue(v);
      ctx.moveTo(p, a.bottom); ctx.lineTo(p, a.bottom - 7); ctx.moveTo(p, a.top); ctx.lineTo(p, a.top + 7); });
    yTicks.forEach(v => { const p = scales.y.getPixelForValue(v);
      ctx.moveTo(a.left, p); ctx.lineTo(a.left + 7, p); ctx.moveTo(a.right, p); ctx.lineTo(a.right - 7, p); });
    ctx.stroke();
    ctx.restore();
  }
};
const legendPlugin = {
  id: 'boxLegend',
  afterDraw(chart) {
    const {ctx, chartArea: a} = chart;
    ctx.save();
    ctx.font = '19px ' + FONT;
    const ds = chart.data.datasets;
    const tw = Math.max(...ds.map(d => ctx.measureText(d.label).width));
    const right = a.right - 19, top = a.top + 19;
    const w = tw + 76, h = 55, left = right - w;
    ctx.fillStyle = '#fff'; ctx.fillRect(left, top, w, h);
    ctx.strokeStyle = '#8a8a8a'; ctx.lineWidth = 1;
    ctx.strokeRect(Math.round(left) + 0.5, Math.round(top) + 0.5, Math.round(w), h);
    ds.forEach((d, i) => {
      const cy = top + 16 + i * 25;
      ctx.beginPath(); ctx.arc(left + 32, cy, 5, 0, Math.PI * 2);
      ctx.fillStyle = d.legendColor; ctx.fill();
      ctx.fillStyle = TXT; ctx.textAlign = 'left'; ctx.textBaseline = 'middle';
      ctx.fillText(d.label, left + 70, cy + 1);
    });
    ctx.restore();
  }
};
const colorbarPlugin = {
  id: 'colorbar',
  afterDraw(chart) {
    const {ctx, chartArea: a, scales} = chart;
    const cb = scales.cb;
    const x0 = a.right + 53, x1 = a.right + 92;
    ctx.save();
    for (let k = 0; k < 64; k++) {
      const v0 = cbRange[0] + (cbRange[1] - cbRange[0]) * k / 64;
      const v1 = cbRange[0] + (cbRange[1] - cbRange[0]) * (k + 1) / 64;
      const p0 = cb.getPixelForValue(v0), p1 = cb.getPixelForValue(v1);
      ctx.fillStyle = jet64(k);
      ctx.fillRect(x0, p1, x1 - x0, p0 - p1 + 0.6);
    }
    const top = cb.getPixelForValue(cbRange[1]), bot = cb.getPixelForValue(cbRange[0]);
    ctx.strokeStyle = AXC; ctx.lineWidth = 1.2;
    ctx.strokeRect(x0, top, x1 - x0, bot - top);
    ctx.beginPath();
    cbTicks.forEach(v => { const p = cb.getPixelForValue(v); ctx.moveTo(x1, p); ctx.lineTo(x1 - 5, p); });
    ctx.stroke();
    ctx.fillStyle = TXT; ctx.font = '19px ' + FONT;
    ctx.textAlign = 'center'; ctx.textBaseline = 'middle';
    ctx.translate(a.right + 154, (top + bot) / 2);
    ctx.rotate(-Math.PI / 2);
    ctx.fillText(cbTitle[0], 0, 0);
    ctx.fillText(cbTitle[1], 0, 23);
    ctx.restore();
  }
};

// ---------- chart ----------
new Chart(document.getElementById('c'), {
  type: 'scatter',
  data: {
    datasets: [
      {label: seriesLabels[0], data: detPts, pointRadius: 5.3, pointHoverRadius: 5.3, pointBorderWidth: 0,
       pointBackgroundColor: detColors, backgroundColor: detColors, legendColor: jet64(0)},
      {label: seriesLabels[1], data: stochPts, pointRadius: 4.3, pointHoverRadius: 4.3, pointBorderWidth: 0,
       pointBackgroundColor: '#808080', backgroundColor: '#808080', legendColor: '#808080'}
    ]
  },
  options: {
    responsive: false, maintainAspectRatio: false, animation: false, devicePixelRatio: 1,
    layout: {padding: {top: 13, left: 0, right: 0, bottom: 0}},
    plugins: {legend: {display: false}, tooltip: {enabled: false}},
    events: [],
    scales: {
      x: {
        type: 'linear', position: 'bottom', min: 0.7, max: 0.88,
        afterBuildTicks: s => { s.ticks = xTicks.map(v => ({value: v})); },
        afterFit: s => { s.height = 68; s.paddingLeft = 0; s.paddingRight = 0; },
        grid: {display: false, drawTicks: false},
        border: {display: false},
        ticks: {callback: fmt, color: TXT, font: {family: FONT, size: 21}, padding: 12, maxRotation: 0, autoSkip: false},
        title: {display: true, text: xTitle, color: TXT, font: {family: FONT, size: 22}, padding: {top: 0, bottom: 9}}
      },
      y: {
        type: 'linear', position: 'left', min: 0.1, max: 0.7,
        afterBuildTicks: s => { s.ticks = yTicks.map(v => ({value: v})); },
        afterFit: s => { s.width = 121; noVPad(s); },
        grid: {display: false, drawTicks: false},
        border: {display: false},
        ticks: {callback: fmt, color: TXT, font: {family: FONT, size: 21}, padding: 10, autoSkip: false},
        title: {display: true, text: yTitle, color: TXT, font: {family: FONT, size: 22, lineHeight: 1.07}, padding: {top: 10, bottom: 0}}
      },
      cb: {
        type: 'linear', axis: 'y', position: 'right', min: cbRange[0], max: cbRange[1],
        afterBuildTicks: s => { s.ticks = cbTicks.map(v => ({value: v})); },
        afterFit: s => { s.width = 196; noVPad(s); },
        grid: {display: false, drawTicks: false},
        border: {display: false},
        ticks: {callback: fmt, color: TXT, font: {family: FONT, size: 19}, padding: 100, autoSkip: false}
      }
    }
  },
  plugins: [framePlugin, colorbarPlugin, legendPlugin]
});
</script>
</body></html>
